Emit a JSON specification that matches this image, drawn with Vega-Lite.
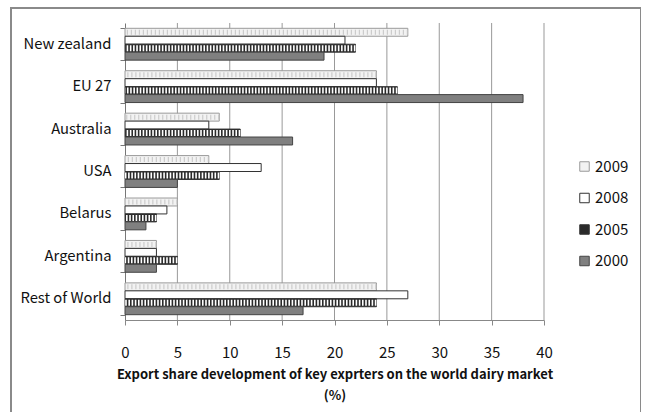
{
  "$schema": "https://vega.github.io/schema/vega-lite/v6.json",
  "autosize": "none",
  "padding": {"left": 11, "top": 8, "right": 0, "bottom": 0},
  "width": 630,
  "height": 406,
  "background": "white",
  "config": {
    "view": {"stroke": "#8a8a8a", "strokeWidth": 2},
    "font": "Noto Sans CJK KR"
  },
  "datasets": {
    "shares": [
      {"country": "New zealand", "year": "2009", "share": 27},
      {"country": "New zealand", "year": "2008", "share": 21},
      {"country": "New zealand", "year": "2005", "share": 22},
      {"country": "New zealand", "year": "2000", "share": 19},
      {"country": "EU 27", "year": "2009", "share": 24},
      {"country": "EU 27", "year": "2008", "share": 24},
      {"country": "EU 27", "year": "2005", "share": 26},
      {"country": "EU 27", "year": "2000", "share": 38},
      {"country": "Australia", "year": "2009", "share": 9},
      {"country": "Australia", "year": "2008", "share": 8},
      {"country": "Australia", "year": "2005", "share": 11},
      {"country": "Australia", "year": "2000", "share": 16},
      {"country": "USA", "year": "2009", "share": 8},
      {"country": "USA", "year": "2008", "share": 13},
      {"country": "USA", "year": "2005", "share": 9},
      {"country": "USA", "year": "2000", "share": 5},
      {"country": "Belarus", "year": "2009", "share": 5},
      {"country": "Belarus", "year": "2008", "share": 4},
      {"country": "Belarus", "year": "2005", "share": 3},
      {"country": "Belarus", "year": "2000", "share": 2},
      {"country": "Argentina", "year": "2009", "share": 3},
      {"country": "Argentina", "year": "2008", "share": 3},
      {"country": "Argentina", "year": "2005", "share": 5},
      {"country": "Argentina", "year": "2000", "share": 3},
      {"country": "Rest of World", "year": "2009", "share": 24},
      {"country": "Rest of World", "year": "2008", "share": 27},
      {"country": "Rest of World", "year": "2005", "share": 24},
      {"country": "Rest of World", "year": "2000", "share": 17}
    ],
    "gridlines": [
      {"tick": 5}, {"tick": 10}, {"tick": 15}, {"tick": 20},
      {"tick": 25}, {"tick": 30}, {"tick": 35}, {"tick": 40}
    ]
  },
  "layer": [
    {
      "data": {"name": "gridlines"},
      "mark": {"type": "rule", "color": "#999", "strokeWidth": 1},
      "encoding": {
        "x": {
          "field": "tick",
          "type": "quantitative",
          "scale": {"domain": [0, 40], "range": [114, 533], "nice": false},
          "axis": {
            "orient": "bottom",
            "values": [0, 5, 10, 15, 20, 25, 30, 35, 40],
            "offset": -94,
            "grid": false,
            "labelFlush": false,
            "domainColor": "#888",
            "tickColor": "#888",
            "tickSize": 5,
            "labelFontSize": 15,
            "labelColor": "#111",
            "labelPadding": 20,
            "title": ["Export share development of key exprters on the world dairy market", "(%)"],
            "titleFontSize": 13,
            "titleFontWeight": "bold",
            "titleColor": "#111",
            "titleLineHeight": 21,
            "titlePadding": 8
          }
        },
        "y": {"datum": "New zealand", "type": "nominal", "bandPosition": -0.1667},
        "y2": {"datum": "Rest of World", "bandPosition": 1.1667}
      }
    },
    {
      "data": {"name": "shares"},
      "encoding": {
        "y": {
          "field": "country",
          "type": "nominal",
          "sort": ["New zealand", "EU 27", "Australia", "USA", "Belarus", "Argentina", "Rest of World"],
          "scale": {"range": [15, 312], "paddingInner": 0.25, "paddingOuter": 0.125},
          "axis": {
            "title": null,
            "offset": -114,
            "domainColor": "#777",
            "tickColor": "#777",
            "tickSize": 5,
            "tickBand": "extent",
            "labelFontSize": 14.8,
            "labelColor": "#111",
            "labelPadding": 9
          }
        },
        "yOffset": {
          "field": "year",
          "type": "nominal",
          "scale": {"domain": ["2009", "2008", "2005", "2000"], "paddingInner": 0, "paddingOuter": 0}
        },
        "x": {"field": "share", "type": "quantitative"}
      },
      "layer": [
        {
          "mark": {"type": "bar", "strokeWidth": 1},
          "encoding": {
            "fill": {
              "field": "year",
              "type": "nominal",
              "scale": {"domain": ["2009", "2008", "2005", "2000"], "range": ["#f2f2f2", "#ffffff", "#2a2a2a", "#808080"]},
              "legend": {
                "title": null,
                "orient": "none",
                "legendX": 566,
                "legendY": 151,
                "symbolType": "square",
                "symbolSize": 90,
                "symbolStrokeWidth": 1,
                "labelFontSize": 15,
                "labelColor": "#111",
                "rowPadding": 15.5,
                "labelOffset": 3
              }
            },
            "stroke": {
              "field": "year",
              "type": "nominal",
              "scale": {"domain": ["2009", "2008", "2005", "2000"], "range": ["#9a9a9a", "#333333", "#333333", "#444444"]},
              "legend": null
            }
          }
        },
        {
          "transform": [{"filter": "datum.year === '2005'"}],
          "mark": {"type": "rule", "color": "#ffffff", "strokeWidth": 6, "strokeDash": [1.6, 1.6]},
          "encoding": {"x2": {"datum": 0}}
        },
        {
          "transform": [{"filter": "datum.year === '2009'"}],
          "mark": {"type": "rule", "color": "#c4c4c4", "strokeWidth": 5, "strokeDash": [1, 3]},
          "encoding": {"x2": {"datum": 0}}
        }
      ]
    }
  ]
}
